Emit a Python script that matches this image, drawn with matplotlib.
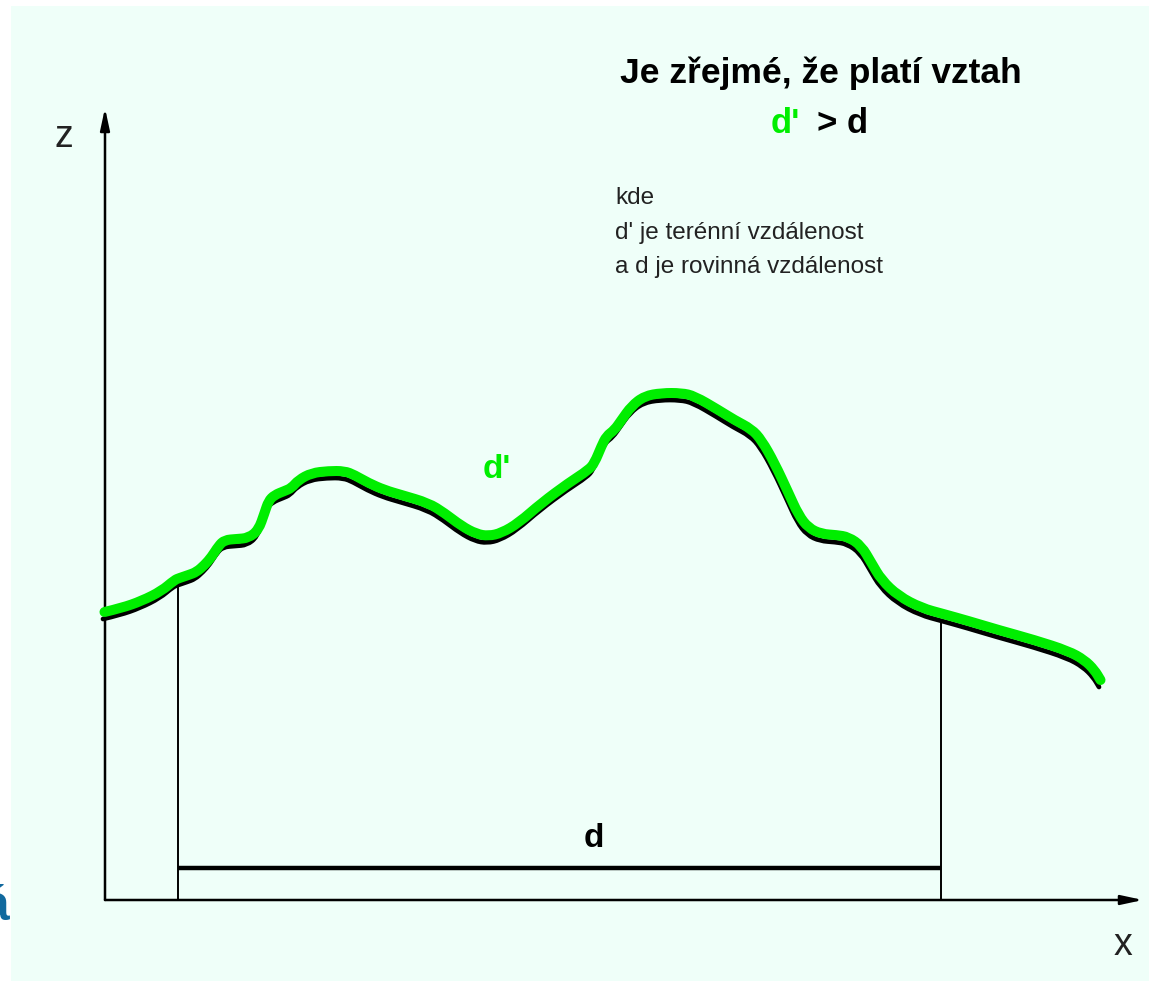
import matplotlib
matplotlib.use("Agg")
import matplotlib.pyplot as plt
import matplotlib.transforms as mtransforms
from matplotlib.patches import Rectangle, PathPatch
from matplotlib.path import Path

# ---- data: terrain profile (x = horizontal distance, z = elevation) ----
profile_x = [-2, 15, 35, 55, 68, 73, 82, 90, 98, 105, 112, 118, 130, 142, 152, 158, 162,
             168, 178, 185, 192, 205, 222, 238, 248, 262, 278, 295, 322, 338, 355, 370,
             382, 395, 412, 435, 462, 482, 488, 495, 500, 508, 515, 525, 538, 555, 575,
             588, 612, 628, 645, 655, 668, 682, 692, 702, 715, 730, 742, 755, 765, 775,
             792, 815, 837, 862, 892, 928, 962, 978, 988, 994]
profile_z = [281, 285, 292, 302, 313, 315, 318, 321, 328, 336, 347, 353, 354, 355, 363,
             380, 392, 398, 402, 405, 413, 420, 422, 422, 418, 410, 403, 398, 390, 380,
             367, 359, 357, 360, 370, 390, 410, 423, 430, 447, 457, 463, 473, 487, 497,
             500, 500, 497, 483, 473, 464, 453, 430, 400, 378, 365, 359, 358, 356, 347,
             330, 313, 297, 285, 279, 272, 263, 253, 242, 233, 223, 213]

# plan distance d between the two verticals
d_start, d_end = 73, 836
d_level = 32
z_at_start, z_at_end = 315, 279

axis_x_end, axis_z_end = 1038, 792

title_line1 = "Je zřejmé, že platí vztah"
title_d_prime = "d'"
title_rest = "> d"
note_lines = ["kde", "d' je terénní vzdálenost", "a d je rovinná vzdálenost"]

BG = "#effff9"
GREEN = "#00ee00"
FONT = "Liberation Sans"


def smooth_path(xs, zs):
    """Quadratic-Bezier path using the profile points as control points."""
    verts = [(xs[0], zs[0])]
    codes = [Path.MOVETO]
    for i in range(1, len(xs) - 1):
        verts.append((xs[i], zs[i]))
        verts.append(((xs[i] + xs[i + 1]) / 2, (zs[i] + zs[i + 1]) / 2))
        codes += [Path.CURVE3, Path.CURVE3]
    verts.append((xs[-1], zs[-1]))
    codes.append(Path.LINETO)
    return Path(verts, codes)


fig = plt.figure(figsize=(11.49, 9.81), dpi=100)
ax = fig.add_axes([0, 0, 1, 1])
ax.set_xlim(-105, 1044)
ax.set_ylim(-81, 900)
ax.axis("off")

# clipped blue glyph at left edge (behind the background panel)
ax.text(-95, -20, "á", fontsize=36, fontweight="bold", color="#11699e",
        family=FONT, ha="right", va="baseline", zorder=-1)
ax.add_patch(Rectangle((-94, -81), 1149, 975, facecolor=BG, edgecolor="none", zorder=0))

# axes with arrows
arrow = dict(arrowstyle="-|>,head_length=1.3,head_width=0.28", lw=1.8,
             color="black", shrinkA=0, shrinkB=0)
ax.annotate("", xy=(axis_x_end, 0), xytext=(0, 0), arrowprops=arrow, zorder=3)
ax.annotate("", xy=(0, axis_z_end), xytext=(0, 0), arrowprops=arrow, zorder=3)
ax.text(1018, -55, "x", fontsize=27, color="#222222", family=FONT,
        ha="center", va="baseline")
ax.text(-41, 753, "z", fontsize=27, color="#222222", family=FONT,
        ha="center", va="baseline")

# verticals and d segment
ax.plot([d_start, d_start], [0, z_at_start], color="black", lw=1.4, zorder=2)
ax.plot([d_end, d_end], [0, z_at_end], color="black", lw=1.4, zorder=2)
ax.plot([d_start, d_end], [d_level, d_level], color="black", lw=3.2, zorder=2,
        solid_capstyle="butt")
ax.text(489, 53, "d", fontsize=24, fontweight="bold",
        family=FONT, ha="center", va="baseline")

# terrain profile: black line with green offset copy
ax.add_patch(PathPatch(smooth_path(profile_x, profile_z), facecolor="none",
                       edgecolor="black", lw=3.4, zorder=4,
                       capstyle="round", joinstyle="round"))
off = mtransforms.offset_copy(ax.transData, fig=fig, x=1.5, y=7, units="dots")
ax.add_patch(PathPatch(smooth_path(profile_x, profile_z), facecolor="none",
                       edgecolor=GREEN, lw=7.2, zorder=5, transform=off,
                       capstyle="round", joinstyle="round"))
ax.text(378, 422, "d'", fontsize=24, fontweight="bold", color=GREEN,
        family=FONT, ha="left", va="baseline")

# title
ax.text(716, 817, title_line1, fontsize=25.5, fontweight="bold",
        family=FONT, ha="center", va="baseline")
ax.text(695, 767, title_d_prime, fontsize=25, fontweight="bold", color=GREEN,
        family=FONT, ha="right", va="baseline")
ax.text(712, 767, title_rest, fontsize=25, fontweight="bold", color="black",
        family=FONT, ha="left", va="baseline")

# notes
for i, line in enumerate(note_lines):
    ax.text(510, 696 - i * 34.5, line, fontsize=17.5, color="#222222",
            family=FONT, ha="left", va="baseline")

fig.savefig("out.png", dpi=100, facecolor="white")
